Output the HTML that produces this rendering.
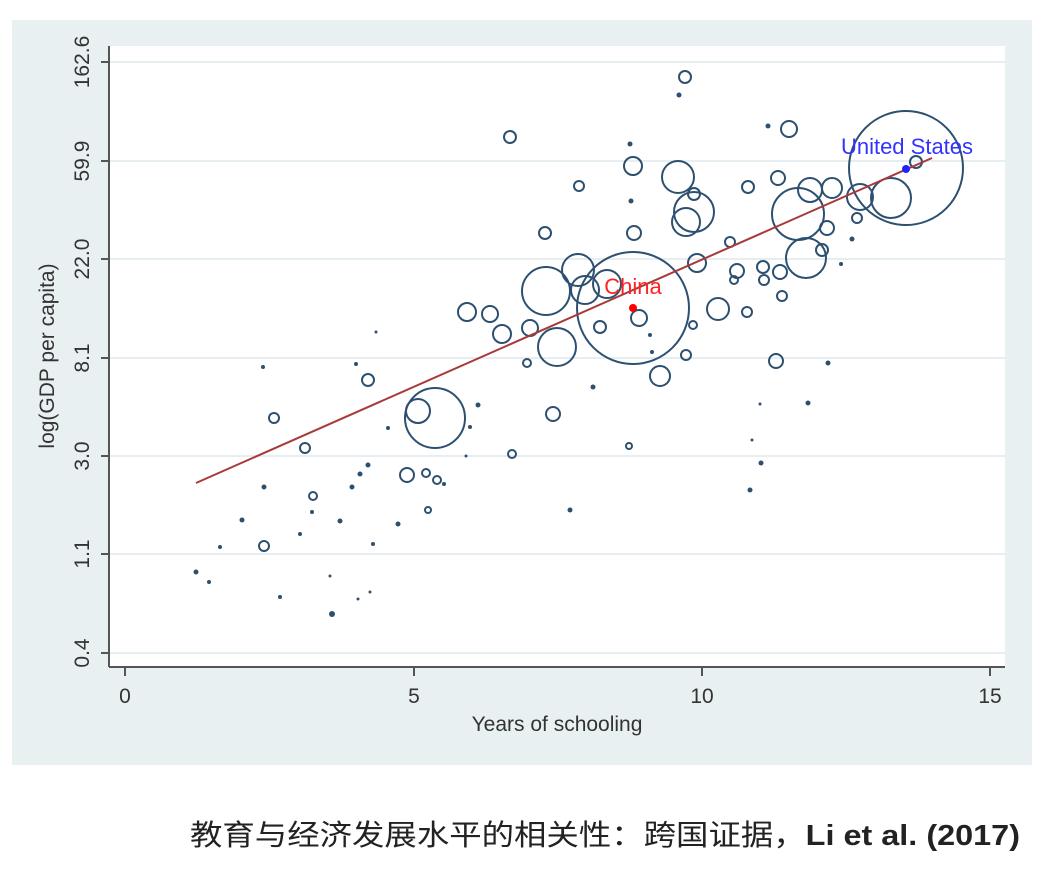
<!DOCTYPE html>
<html><head><meta charset="utf-8"><style>
body{margin:0;background:#fff;}
</style></head><body>
<svg width="1042" height="874" xmlns="http://www.w3.org/2000/svg" font-family="Liberation Sans, sans-serif">
<rect x="12" y="20" width="1020" height="745" fill="#e9f0f2"/>
<rect x="109" y="46" width="896" height="621" fill="#fff"/>
<g stroke="#e6eef1" stroke-width="2">
<line x1="109" x2="1005" y1="62" y2="62"/><line x1="109" x2="1005" y1="161" y2="161"/>
<line x1="109" x2="1005" y1="259" y2="259"/><line x1="109" x2="1005" y1="358" y2="358"/>
<line x1="109" x2="1005" y1="456" y2="456"/><line x1="109" x2="1005" y1="554" y2="554"/>
<line x1="109" x2="1005" y1="653" y2="653"/>
</g>
<g stroke="#555" stroke-width="2">
<line x1="109" y1="46" x2="109" y2="667"/><line x1="109" y1="667" x2="1005" y2="667"/>
<line x1="101" x2="109" y1="62" y2="62"/><line x1="101" x2="109" y1="161" y2="161"/>
<line x1="101" x2="109" y1="259" y2="259"/><line x1="101" x2="109" y1="358" y2="358"/>
<line x1="101" x2="109" y1="456" y2="456"/><line x1="101" x2="109" y1="554" y2="554"/>
<line x1="101" x2="109" y1="653" y2="653"/>
<line x1="125" x2="125" y1="667" y2="676"/><line x1="414" x2="414" y1="667" y2="676"/>
<line x1="702" x2="702" y1="667" y2="676"/><line x1="990" x2="990" y1="667" y2="676"/>
</g>
<g font-size="21" fill="#333" text-anchor="middle">
<text transform="translate(89,62) rotate(-90)">162.6</text>
<text transform="translate(89,161) rotate(-90)">59.9</text>
<text transform="translate(89,259) rotate(-90)">22.0</text>
<text transform="translate(89,358) rotate(-90)">8.1</text>
<text transform="translate(89,456) rotate(-90)">3.0</text>
<text transform="translate(89,554) rotate(-90)">1.1</text>
<text transform="translate(89,653) rotate(-90)">0.4</text>
<text transform="translate(54,356) rotate(-90)">log(GDP per capita)</text>
<text x="125" y="703">0</text><text x="414" y="703">5</text><text x="702" y="703">10</text><text x="990" y="703">15</text>
<text x="557" y="731">Years of schooling</text>
</g>
<g fill="none" stroke="#2d5070" stroke-width="2">
<circle cx="906" cy="168" r="57"/><circle cx="633" cy="308" r="56"/><circle cx="435" cy="418" r="30"/>
<circle cx="546" cy="291" r="24"/><circle cx="798" cy="214" r="26"/><circle cx="806" cy="258" r="20"/>
<circle cx="891" cy="198" r="20"/><circle cx="557" cy="347" r="19"/><circle cx="578" cy="270" r="16"/>
<circle cx="694" cy="212" r="20"/><circle cx="686" cy="222" r="14"/><circle cx="678" cy="177" r="16"/>
<circle cx="418" cy="411" r="12"/><circle cx="607" cy="284" r="14"/><circle cx="585" cy="290" r="14"/>
<circle cx="860" cy="197" r="13"/><circle cx="810" cy="190" r="12"/><circle cx="832" cy="188" r="10"/>
<circle cx="718" cy="309" r="11"/><circle cx="660" cy="376" r="10"/><circle cx="633" cy="166" r="9"/>
<circle cx="467" cy="312" r="9"/><circle cx="490" cy="314" r="8"/><circle cx="502" cy="334" r="9"/>
<circle cx="530" cy="328" r="8"/><circle cx="553" cy="414" r="7"/><circle cx="407" cy="475" r="7"/>
<circle cx="510" cy="137" r="6"/><circle cx="685" cy="77" r="6"/><circle cx="789" cy="129" r="8"/>
<circle cx="776" cy="361" r="7"/><circle cx="737" cy="271" r="7"/><circle cx="697" cy="263" r="9"/>
<circle cx="639" cy="318" r="8"/><circle cx="368" cy="380" r="6"/><circle cx="274" cy="418" r="5"/>
<circle cx="305" cy="448" r="5"/><circle cx="264" cy="546" r="5"/><circle cx="748" cy="187" r="6"/>
<circle cx="778" cy="178" r="7"/><circle cx="782" cy="296" r="5"/><circle cx="747" cy="312" r="5"/>
<circle cx="600" cy="327" r="6"/><circle cx="545" cy="233" r="6"/><circle cx="579" cy="186" r="5"/>
<circle cx="634" cy="233" r="7"/><circle cx="694" cy="194" r="6"/><circle cx="730" cy="242" r="5"/>
<circle cx="763" cy="267" r="6"/><circle cx="780" cy="272" r="7"/><circle cx="827" cy="228" r="7"/>
<circle cx="822" cy="250" r="6"/><circle cx="857" cy="218" r="5"/><circle cx="916" cy="162" r="6"/>
<circle cx="686" cy="355" r="5"/><circle cx="512" cy="454" r="4"/><circle cx="426" cy="473" r="4"/>
<circle cx="437" cy="480" r="4"/><circle cx="313" cy="496" r="4"/><circle cx="428" cy="510" r="3"/>
<circle cx="527" cy="363" r="4"/><circle cx="693" cy="325" r="4"/><circle cx="764" cy="280" r="5"/>
<circle cx="734" cy="280" r="4"/><circle cx="629" cy="446" r="3"/>
</g>
<g fill="#2d5070">
<circle cx="264" cy="487" r="2.5"/><circle cx="242" cy="520" r="2.5"/><circle cx="220" cy="547" r="2"/>
<circle cx="196" cy="572" r="2.5"/><circle cx="209" cy="582" r="2"/><circle cx="280" cy="597" r="2"/>
<circle cx="332" cy="614" r="3"/><circle cx="358" cy="599" r="1.5"/><circle cx="370" cy="592" r="1.5"/>
<circle cx="340" cy="521" r="2.5"/><circle cx="352" cy="487" r="2.5"/><circle cx="360" cy="474" r="2.5"/>
<circle cx="368" cy="465" r="2.5"/><circle cx="373" cy="544" r="2"/><circle cx="398" cy="524" r="2.5"/>
<circle cx="388" cy="428" r="2"/><circle cx="478" cy="405" r="2.5"/><circle cx="470" cy="427" r="2"/>
<circle cx="300" cy="534" r="2"/><circle cx="312" cy="512" r="2"/><circle cx="263" cy="367" r="2"/>
<circle cx="356" cy="364" r="2"/><circle cx="570" cy="510" r="2.5"/><circle cx="593" cy="387" r="2.5"/>
<circle cx="750" cy="490" r="2.5"/><circle cx="761" cy="463" r="2.5"/><circle cx="808" cy="403" r="2.5"/>
<circle cx="679" cy="95" r="2.5"/><circle cx="630" cy="144" r="2.5"/><circle cx="631" cy="201" r="2.5"/>
<circle cx="768" cy="126" r="2.5"/><circle cx="828" cy="363" r="2.5"/><circle cx="852" cy="239" r="2.5"/>
<circle cx="841" cy="264" r="2"/><circle cx="652" cy="352" r="2"/><circle cx="650" cy="335" r="2"/>
<circle cx="760" cy="404" r="1.5"/><circle cx="752" cy="440" r="1.5"/><circle cx="376" cy="332" r="1.5"/>
<circle cx="444" cy="484" r="2"/><circle cx="466" cy="456" r="1.5"/><circle cx="330" cy="576" r="1.5"/>
</g>
<line x1="196" y1="483" x2="932" y2="158" stroke="#a83a3a" stroke-width="2"/>
<circle cx="633" cy="308" r="4" fill="#f00"/>
<text x="633" y="294" fill="#f22" font-size="22" text-anchor="middle">China</text>
<circle cx="906" cy="169" r="4" fill="#22f"/>
<text x="907" y="154" fill="#33f" font-size="22" text-anchor="middle">United States</text>
<text x="190" y="845" font-size="29" fill="#222" font-family="Liberation Sans, Noto Sans CJK SC, sans-serif" textLength="830" lengthAdjust="spacingAndGlyphs">教育与经济发展水平的相关性：跨国证据，<tspan font-weight="bold">Li et al. (2017)</tspan></text>
</svg>
</body></html>
